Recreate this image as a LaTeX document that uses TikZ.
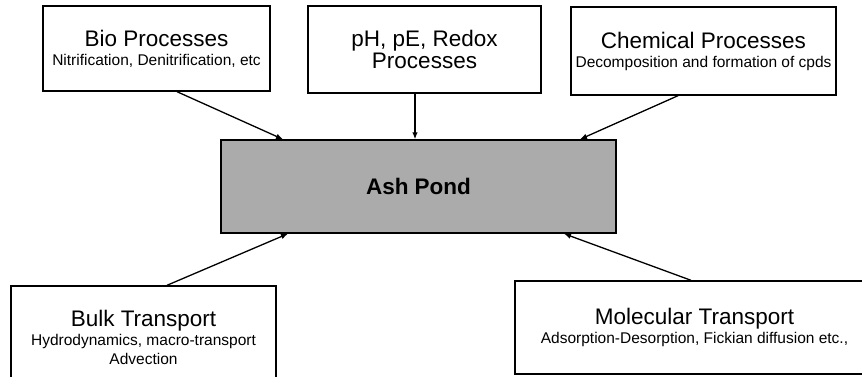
\documentclass[tikz,border=0pt]{standalone}
\usepackage{fontspec}
\setmainfont{Liberation Sans}
\usepackage{tikz}
\usetikzlibrary{arrows.meta,positioning}

\newcommand{\boxtitle}{\fontsize{22.5}{19}\selectfont}
\newcommand{\boxsub}{\fontsize{15.5}{19}\selectfont}

\begin{document}
\begin{tikzpicture}[x=1pt,y=-1pt,
  every node/.style={font=\boxsub},
  bx/.style={draw,line width=1.4pt,inner sep=0pt,align=center,fill=white},
  pond/.style={bx,fill=black!33},
  arr/.style={-{Latex[length=7pt,width=5.5pt]},line width=1.3pt}]
 \useasboundingbox (0,0) rectangle (862,377);
 \clip (0,0) rectangle (862,377);
 \node[pond,minimum width=395,minimum height=93] (ash) at (418.5,186.5) {{\boxtitle\bfseries Ash Pond}};
 \node[bx,minimum width=227,minimum height=85] (bio) at (156.5,48.5) {{\boxtitle Bio Processes}\\Nitrification, Denitrification, etc};
 \node[bx,minimum width=233,minimum height=87,font=\fontsize{22.5}{20}\selectfont] (ph) at (424.5,49.5) {pH, pE, Redox\\Processes};
 \node[bx,minimum width=265,minimum height=88] (chem) at (703.5,51) {{\boxtitle Chemical Processes}\\Decomposition and formation of cpds};
 \node[bx,minimum width=265,minimum height=102] (bulk) at (143.5,337) {{\boxtitle Bulk Transport}\\Hydrodynamics, macro-transport\\Advection};
 \node[bx,minimum width=359,minimum height=93] (mol) at (694.5,327.5) {{\boxtitle Molecular Transport}\\Adsorption-Desorption, Fickian diffusion etc.,};
 % into the pond
 \foreach \f/\fs/\fx/\tx/\ts in {bio/south/20.5/-135.5/north,ph/south/-9.5/-3.5/north,chem/south/-25.5/161.5/north,bulk/north/23.5/-130.5/south,mol/north/-3.5/145.5/south}
  \draw[arr] ([xshift=\fx]\f.\fs) -- ([xshift=\tx]ash.\ts);
\end{tikzpicture}
\end{document}
